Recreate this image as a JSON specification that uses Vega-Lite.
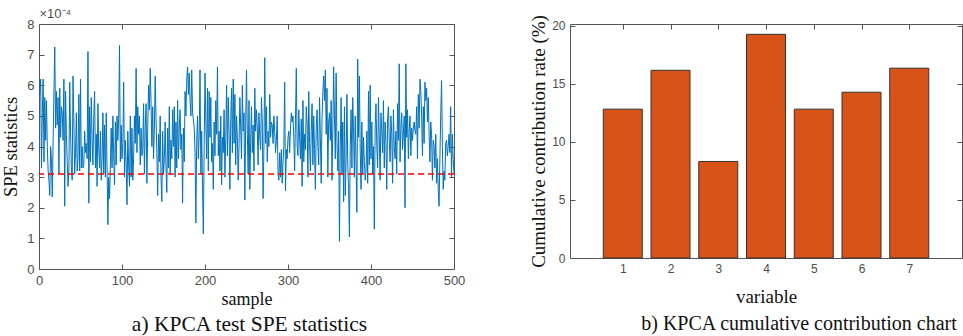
{
"$schema": "https://vega.github.io/schema/vega-lite/v6.json",
"background": "white",
"padding": {"left": 1, "top": 7, "right": 0, "bottom": 0},
"spacing": 116,
"bounds": "flush",
"config": {
  "view": {"stroke": "#555", "strokeWidth": 1},
  "axis": {"grid": false, "domain": false, "labelFlush": false, "tickColor": "#555", "tickSize": -5, "labelColor": "#4d4d4d", "labelFont": "Liberation Sans", "titleFont": "Liberation Serif", "titleFontWeight": "normal", "titleColor": "#111"},
  "title": {"font": "Liberation Serif", "fontWeight": "normal", "color": "#111"}
},
"datasets": {
"spe": [
{"sample":1,"spe":5.7},{"sample":2,"spe":6.2},{"sample":3,"spe":3.3},{"sample":4,"spe":5.1},{"sample":5,"spe":6.2},{"sample":6,"spe":3.5},{"sample":7,"spe":5.6},{"sample":8,"spe":4.2},{"sample":9,"spe":5.5},{"sample":10,"spe":4.0},
{"sample":11,"spe":3.2},{"sample":12,"spe":2.9},{"sample":13,"spe":2.4},{"sample":14,"spe":4.0},{"sample":15,"spe":3.6},{"sample":16,"spe":2.35},{"sample":17,"spe":4.2},{"sample":18,"spe":5.8},{"sample":19,"spe":7.25},{"sample":20,"spe":4.6},
{"sample":21,"spe":5.8},{"sample":22,"spe":4.7},{"sample":23,"spe":5.6},{"sample":24,"spe":3.1},{"sample":25,"spe":5.9},{"sample":26,"spe":4.3},{"sample":27,"spe":5.3},{"sample":28,"spe":5.1},{"sample":29,"spe":4.2},{"sample":30,"spe":6.2},
{"sample":31,"spe":2.05},{"sample":32,"spe":5.8},{"sample":33,"spe":4.4},{"sample":34,"spe":3.5},{"sample":35,"spe":2.7},{"sample":36,"spe":3.2},{"sample":37,"spe":6.1},{"sample":38,"spe":4.5},{"sample":39,"spe":3.3},{"sample":40,"spe":2.9},
{"sample":41,"spe":6.3},{"sample":42,"spe":4.8},{"sample":43,"spe":3.1},{"sample":44,"spe":3.8},{"sample":45,"spe":5.1},{"sample":46,"spe":3.2},{"sample":47,"spe":3.6},{"sample":48,"spe":5.7},{"sample":49,"spe":3.2},{"sample":50,"spe":6.2},
{"sample":51,"spe":3.3},{"sample":52,"spe":4.0},{"sample":53,"spe":3.3},{"sample":54,"spe":3.4},{"sample":55,"spe":4.5},{"sample":56,"spe":3.8},{"sample":57,"spe":4.1},{"sample":58,"spe":3.6},{"sample":59,"spe":7.1},{"sample":60,"spe":2.15},
{"sample":61,"spe":5.3},{"sample":62,"spe":3.5},{"sample":63,"spe":5.6},{"sample":64,"spe":4.2},{"sample":65,"spe":3.4},{"sample":66,"spe":5.0},{"sample":67,"spe":5.8},{"sample":68,"spe":3.3},{"sample":69,"spe":4.4},{"sample":70,"spe":2.7},
{"sample":71,"spe":5.4},{"sample":72,"spe":3.9},{"sample":73,"spe":3.3},{"sample":74,"spe":4.5},{"sample":75,"spe":2.9},{"sample":76,"spe":3.6},{"sample":77,"spe":5.1},{"sample":78,"spe":3.1},{"sample":79,"spe":4.7},{"sample":80,"spe":3.0},
{"sample":81,"spe":5.1},{"sample":82,"spe":3.3},{"sample":83,"spe":1.45},{"sample":84,"spe":3.0},{"sample":85,"spe":2.3},{"sample":86,"spe":3.4},{"sample":87,"spe":4.6},{"sample":88,"spe":3.3},{"sample":89,"spe":5.0},{"sample":90,"spe":3.7},
{"sample":91,"spe":2.75},{"sample":92,"spe":4.8},{"sample":93,"spe":3.4},{"sample":94,"spe":5.0},{"sample":95,"spe":4.2},{"sample":96,"spe":4.9},{"sample":97,"spe":7.3},{"sample":98,"spe":3.5},{"sample":99,"spe":4.7},{"sample":100,"spe":3.6},
{"sample":101,"spe":4.1},{"sample":102,"spe":6.1},{"sample":103,"spe":3.0},{"sample":104,"spe":4.2},{"sample":105,"spe":3.5},{"sample":106,"spe":2.1},{"sample":107,"spe":4.5},{"sample":108,"spe":3.4},{"sample":109,"spe":2.7},{"sample":110,"spe":5.0},
{"sample":111,"spe":3.0},{"sample":112,"spe":4.6},{"sample":113,"spe":2.9},{"sample":114,"spe":3.6},{"sample":115,"spe":5.0},{"sample":116,"spe":4.1},{"sample":117,"spe":6.55},{"sample":118,"spe":3.8},{"sample":119,"spe":5.3},{"sample":120,"spe":4.4},
{"sample":121,"spe":5.0},{"sample":122,"spe":3.4},{"sample":123,"spe":4.6},{"sample":124,"spe":3.7},{"sample":125,"spe":3.9},{"sample":126,"spe":5.4},{"sample":127,"spe":3.1},{"sample":128,"spe":4.6},{"sample":129,"spe":5.4},{"sample":130,"spe":2.8},
{"sample":131,"spe":4.6},{"sample":132,"spe":6.0},{"sample":133,"spe":5.2},{"sample":134,"spe":6.55},{"sample":135,"spe":5.4},{"sample":136,"spe":4.0},{"sample":137,"spe":5.3},{"sample":138,"spe":3.6},{"sample":139,"spe":4.6},{"sample":140,"spe":6.3},
{"sample":141,"spe":4.9},{"sample":142,"spe":3.8},{"sample":143,"spe":2.4},{"sample":144,"spe":4.4},{"sample":145,"spe":3.5},{"sample":146,"spe":5.0},{"sample":147,"spe":3.0},{"sample":148,"spe":2.2},{"sample":149,"spe":4.5},{"sample":150,"spe":3.1},
{"sample":151,"spe":3.6},{"sample":152,"spe":4.8},{"sample":153,"spe":3.3},{"sample":154,"spe":2.5},{"sample":155,"spe":4.6},{"sample":156,"spe":3.3},{"sample":157,"spe":5.3},{"sample":158,"spe":3.1},{"sample":159,"spe":4.2},{"sample":160,"spe":3.6},
{"sample":161,"spe":5.2},{"sample":162,"spe":4.0},{"sample":163,"spe":5.3},{"sample":164,"spe":3.0},{"sample":165,"spe":4.8},{"sample":166,"spe":3.3},{"sample":167,"spe":5.5},{"sample":168,"spe":3.6},{"sample":169,"spe":4.6},{"sample":170,"spe":5.2},
{"sample":171,"spe":3.9},{"sample":172,"spe":4.4},{"sample":173,"spe":2.15},{"sample":174,"spe":4.6},{"sample":175,"spe":3.5},{"sample":176,"spe":5.8},{"sample":177,"spe":5.0},{"sample":178,"spe":6.2},{"sample":179,"spe":6.6},{"sample":180,"spe":5.7},
{"sample":181,"spe":6.4},{"sample":182,"spe":5.5},{"sample":183,"spe":5.0},{"sample":184,"spe":6.5},{"sample":185,"spe":5.1},{"sample":186,"spe":4.9},{"sample":187,"spe":4.6},{"sample":188,"spe":3.8},{"sample":189,"spe":1.5},{"sample":190,"spe":4.2},
{"sample":191,"spe":5.0},{"sample":192,"spe":3.6},{"sample":193,"spe":4.4},{"sample":194,"spe":6.5},{"sample":195,"spe":3.1},{"sample":196,"spe":4.5},{"sample":197,"spe":2.7},{"sample":198,"spe":1.15},{"sample":199,"spe":4.0},{"sample":200,"spe":6.4},
{"sample":201,"spe":4.8},{"sample":202,"spe":3.6},{"sample":203,"spe":5.9},{"sample":204,"spe":3.2},{"sample":205,"spe":5.8},{"sample":206,"spe":4.3},{"sample":207,"spe":5.6},{"sample":208,"spe":3.5},{"sample":209,"spe":4.1},{"sample":210,"spe":2.6},
{"sample":211,"spe":4.8},{"sample":212,"spe":3.7},{"sample":213,"spe":5.5},{"sample":214,"spe":4.4},{"sample":215,"spe":6.6},{"sample":216,"spe":3.7},{"sample":217,"spe":4.5},{"sample":218,"spe":3.2},{"sample":219,"spe":5.0},{"sample":220,"spe":2.75},
{"sample":221,"spe":4.3},{"sample":222,"spe":3.8},{"sample":223,"spe":5.2},{"sample":224,"spe":3.0},{"sample":225,"spe":4.3},{"sample":226,"spe":6.0},{"sample":227,"spe":3.7},{"sample":228,"spe":5.6},{"sample":229,"spe":4.5},{"sample":230,"spe":2.6},
{"sample":231,"spe":4.8},{"sample":232,"spe":5.9},{"sample":233,"spe":3.8},{"sample":234,"spe":6.2},{"sample":235,"spe":4.1},{"sample":236,"spe":5.7},{"sample":237,"spe":3.4},{"sample":238,"spe":5.0},{"sample":239,"spe":4.3},{"sample":240,"spe":2.9},
{"sample":241,"spe":4.0},{"sample":242,"spe":5.6},{"sample":243,"spe":4.6},{"sample":244,"spe":3.6},{"sample":245,"spe":6.0},{"sample":246,"spe":4.5},{"sample":247,"spe":5.1},{"sample":248,"spe":2.25},{"sample":249,"spe":4.7},{"sample":250,"spe":6.5},
{"sample":251,"spe":4.4},{"sample":252,"spe":3.1},{"sample":253,"spe":5.5},{"sample":254,"spe":2.6},{"sample":255,"spe":4.2},{"sample":256,"spe":5.3},{"sample":257,"spe":3.8},{"sample":258,"spe":4.7},{"sample":259,"spe":3.2},{"sample":260,"spe":5.9},
{"sample":261,"spe":4.5},{"sample":262,"spe":5.2},{"sample":263,"spe":4.6},{"sample":264,"spe":3.4},{"sample":265,"spe":5.1},{"sample":266,"spe":4.3},{"sample":267,"spe":3.9},{"sample":268,"spe":5.6},{"sample":269,"spe":4.8},{"sample":270,"spe":2.3},
{"sample":271,"spe":4.0},{"sample":272,"spe":6.9},{"sample":273,"spe":4.1},{"sample":274,"spe":5.3},{"sample":275,"spe":3.5},{"sample":276,"spe":4.5},{"sample":277,"spe":4.0},{"sample":278,"spe":5.7},{"sample":279,"spe":4.3},{"sample":280,"spe":4.8},
{"sample":281,"spe":4.7},{"sample":282,"spe":4.1},{"sample":283,"spe":5.0},{"sample":284,"spe":4.5},{"sample":285,"spe":3.8},{"sample":286,"spe":4.2},{"sample":287,"spe":5.0},{"sample":288,"spe":3.1},{"sample":289,"spe":2.9},{"sample":290,"spe":3.8},
{"sample":291,"spe":3.0},{"sample":292,"spe":3.9},{"sample":293,"spe":2.8},{"sample":294,"spe":3.5},{"sample":295,"spe":4.0},{"sample":296,"spe":6.1},{"sample":297,"spe":2.55},{"sample":298,"spe":3.9},{"sample":299,"spe":3.6},{"sample":300,"spe":4.3},
{"sample":301,"spe":4.5},{"sample":302,"spe":3.8},{"sample":303,"spe":4.6},{"sample":304,"spe":5.1},{"sample":305,"spe":4.8},{"sample":306,"spe":5.0},{"sample":307,"spe":4.3},{"sample":308,"spe":3.2},{"sample":309,"spe":4.9},{"sample":310,"spe":6.55},
{"sample":311,"spe":4.0},{"sample":312,"spe":3.7},{"sample":313,"spe":5.2},{"sample":314,"spe":4.3},{"sample":315,"spe":3.6},{"sample":316,"spe":4.9},{"sample":317,"spe":2.7},{"sample":318,"spe":5.5},{"sample":319,"spe":3.5},{"sample":320,"spe":4.4},
{"sample":321,"spe":3.9},{"sample":322,"spe":5.3},{"sample":323,"spe":4.8},{"sample":324,"spe":3.0},{"sample":325,"spe":5.8},{"sample":326,"spe":4.1},{"sample":327,"spe":3.2},{"sample":328,"spe":4.5},{"sample":329,"spe":5.4},{"sample":330,"spe":3.4},
{"sample":331,"spe":5.0},{"sample":332,"spe":3.9},{"sample":333,"spe":2.6},{"sample":334,"spe":4.6},{"sample":335,"spe":5.2},{"sample":336,"spe":4.0},{"sample":337,"spe":3.4},{"sample":338,"spe":5.6},{"sample":339,"spe":4.3},{"sample":340,"spe":2.8},
{"sample":341,"spe":4.9},{"sample":342,"spe":5.8},{"sample":343,"spe":6.3},{"sample":344,"spe":5.5},{"sample":345,"spe":6.5},{"sample":346,"spe":4.4},{"sample":347,"spe":5.9},{"sample":348,"spe":3.0},{"sample":349,"spe":4.8},{"sample":350,"spe":5.1},
{"sample":351,"spe":4.2},{"sample":352,"spe":5.5},{"sample":353,"spe":2.9},{"sample":354,"spe":4.6},{"sample":355,"spe":6.6},{"sample":356,"spe":5.0},{"sample":357,"spe":3.6},{"sample":358,"spe":6.4},{"sample":359,"spe":4.1},{"sample":360,"spe":3.2},
{"sample":361,"spe":4.5},{"sample":362,"spe":0.9},{"sample":363,"spe":4.0},{"sample":364,"spe":5.6},{"sample":365,"spe":3.1},{"sample":366,"spe":4.8},{"sample":367,"spe":2.2},{"sample":368,"spe":5.3},{"sample":369,"spe":2.4},{"sample":370,"spe":3.6},
{"sample":371,"spe":5.7},{"sample":372,"spe":3.4},{"sample":373,"spe":2.6},{"sample":374,"spe":1.05},{"sample":375,"spe":4.0},{"sample":376,"spe":5.2},{"sample":377,"spe":3.3},{"sample":378,"spe":5.6},{"sample":379,"spe":4.4},{"sample":380,"spe":3.0},
{"sample":381,"spe":5.0},{"sample":382,"spe":3.4},{"sample":383,"spe":1.85},{"sample":384,"spe":6.85},{"sample":385,"spe":4.3},{"sample":386,"spe":6.3},{"sample":387,"spe":3.9},{"sample":388,"spe":2.6},{"sample":389,"spe":4.8},{"sample":390,"spe":3.1},
{"sample":391,"spe":4.3},{"sample":392,"spe":3.5},{"sample":393,"spe":2.9},{"sample":394,"spe":3.2},{"sample":395,"spe":4.5},{"sample":396,"spe":2.8},{"sample":397,"spe":5.8},{"sample":398,"spe":3.4},{"sample":399,"spe":6.0},{"sample":400,"spe":3.6},
{"sample":401,"spe":4.8},{"sample":402,"spe":3.1},{"sample":403,"spe":4.0},{"sample":404,"spe":1.3},{"sample":405,"spe":4.6},{"sample":406,"spe":5.4},{"sample":407,"spe":4.0},{"sample":408,"spe":3.3},{"sample":409,"spe":5.6},{"sample":410,"spe":4.3},
{"sample":411,"spe":2.9},{"sample":412,"spe":5.1},{"sample":413,"spe":4.5},{"sample":414,"spe":3.8},{"sample":415,"spe":5.5},{"sample":416,"spe":3.3},{"sample":417,"spe":4.8},{"sample":418,"spe":4.1},{"sample":419,"spe":2.6},{"sample":420,"spe":4.9},
{"sample":421,"spe":5.3},{"sample":422,"spe":4.2},{"sample":423,"spe":3.5},{"sample":424,"spe":5.0},{"sample":425,"spe":4.4},{"sample":426,"spe":2.8},{"sample":427,"spe":5.2},{"sample":428,"spe":4.0},{"sample":429,"spe":3.6},{"sample":430,"spe":4.5},
{"sample":431,"spe":3.1},{"sample":432,"spe":5.4},{"sample":433,"spe":4.2},{"sample":434,"spe":6.7},{"sample":435,"spe":3.5},{"sample":436,"spe":4.6},{"sample":437,"spe":5.1},{"sample":438,"spe":3.9},{"sample":439,"spe":4.4},{"sample":440,"spe":5.0},
{"sample":441,"spe":2.0},{"sample":442,"spe":6.7},{"sample":443,"spe":4.3},{"sample":444,"spe":5.2},{"sample":445,"spe":3.6},{"sample":446,"spe":4.5},{"sample":447,"spe":5.0},{"sample":448,"spe":3.7},{"sample":449,"spe":4.6},{"sample":450,"spe":4.2},
{"sample":451,"spe":4.6},{"sample":452,"spe":4.8},{"sample":453,"spe":4.5},{"sample":454,"spe":4.4},{"sample":455,"spe":5.3},{"sample":456,"spe":3.6},{"sample":457,"spe":5.7},{"sample":458,"spe":4.6},{"sample":459,"spe":6.2},{"sample":460,"spe":5.8},
{"sample":461,"spe":5.0},{"sample":462,"spe":3.7},{"sample":463,"spe":5.3},{"sample":464,"spe":4.1},{"sample":465,"spe":6.1},{"sample":466,"spe":5.5},{"sample":467,"spe":5.9},{"sample":468,"spe":4.8},{"sample":469,"spe":5.6},{"sample":470,"spe":4.4},
{"sample":471,"spe":3.5},{"sample":472,"spe":4.8},{"sample":473,"spe":4.4},{"sample":474,"spe":2.9},{"sample":475,"spe":4.2},{"sample":476,"spe":4.0},{"sample":477,"spe":3.3},{"sample":478,"spe":4.4},{"sample":479,"spe":2.8},{"sample":480,"spe":3.6},
{"sample":481,"spe":2.6},{"sample":482,"spe":2.05},{"sample":483,"spe":3.6},{"sample":484,"spe":5.0},{"sample":485,"spe":6.15},{"sample":486,"spe":4.0},{"sample":487,"spe":2.6},{"sample":488,"spe":3.2},{"sample":489,"spe":2.9},{"sample":490,"spe":4.1},
{"sample":491,"spe":4.2},{"sample":492,"spe":3.7},{"sample":493,"spe":4.0},{"sample":494,"spe":4.4},{"sample":495,"spe":3.8},{"sample":496,"spe":5.3},{"sample":497,"spe":3.0},{"sample":498,"spe":4.4},{"sample":499,"spe":3.6},{"sample":500,"spe":3.1}
],
"contrib": [
{"variable":1,"rate":12.83},{"variable":2,"rate":16.18},{"variable":3,"rate":8.32},{"variable":4,"rate":19.28},{"variable":5,"rate":12.83},{"variable":6,"rate":14.29},{"variable":7,"rate":16.36}
]
},
"hconcat": [
{
  "width": 415, "height": 245,
  "title": {"text": "a) KPCA test SPE statistics", "orient": "bottom", "fontSize": 21.5, "offset": 6, "dx": 3},
  "layer": [
    {
      "data": {"name": "spe"},
      "mark": {"type": "line", "color": "#0072BD", "strokeWidth": 1},
      "encoding": {
        "x": {"field": "sample", "type": "quantitative", "scale": {"domain": [0, 500], "nice": false}, "axis": {"title": "sample", "values": [0,100,200,300,400,500], "labelFontSize": 13, "labelPadding": 10, "titleFontSize": 18, "titlePadding": 3}},
        "y": {"field": "spe", "type": "quantitative", "scale": {"domain": [0, 8], "nice": false}, "axis": {"title": "SPE statistics", "values": [0,1,2,3,4,5,6,7,8], "labelFontSize": 13, "labelPadding": 10, "titleFontSize": 18.5, "titlePadding": 6}}
      }
    },
    {
      "data": {"name": "spe"},
      "mark": {"type": "point", "opacity": 0},
      "encoding": {
        "x": {"field": "sample", "type": "quantitative", "axis": {"orient": "top", "labels": false, "values": [0,100,200,300,400,500], "title": "×10⁻⁴", "titleFont": "Liberation Sans", "titleFontSize": 13, "titleColor": "#4d4d4d", "titleAnchor": "start", "titleAlign": "left", "titlePadding": 3}},
        "y": {"field": "spe", "type": "quantitative", "axis": {"orient": "right", "labels": false, "values": [0,1,2,3,4,5,6,7,8], "title": null}}
      }
    },
    {
      "data": {"values": [{"limit": 3.1}]},
      "mark": {"type": "rule", "color": "#FF0000", "strokeDash": [6, 4], "strokeWidth": 1.5},
      "encoding": {"y": {"field": "limit", "type": "quantitative", "axis": null}}
    }
  ],
  "resolve": {"axis": {"x": "independent", "y": "independent"}}
},
{
  "width": 392, "height": 234,
  "title": {"text": "b) KPCA cumulative contribution chart", "orient": "bottom", "fontSize": 20, "offset": 8, "dx": 33},
  "data": {"name": "contrib"},
  "layer": [
    {
      "mark": {"type": "bar", "orient": "vertical", "color": "#D95319", "stroke": "#333", "strokeWidth": 1, "width": 39},
      "encoding": {
        "x": {"field": "variable", "type": "quantitative", "scale": {"domain": [0, 8], "nice": false}, "axis": {"title": "variable", "values": [1,2,3,4,5,6,7], "labelFontSize": 12, "labelPadding": 10, "titleFontSize": 19, "titlePadding": 13}},
        "y": {"field": "rate", "type": "quantitative", "scale": {"domain": [0, 20.17], "nice": false}, "axis": {"title": "Cumulative contribution rate (%)", "values": [0,5,10,15,20], "labelFontSize": 12, "labelPadding": 10, "titleFontSize": 19, "titlePadding": 3}}
      }
    },
    {
      "mark": {"type": "point", "opacity": 0},
      "encoding": {
        "x": {"field": "variable", "type": "quantitative", "axis": {"orient": "top", "labels": false, "values": [1,2,3,4,5,6,7], "title": null}},
        "y": {"field": "rate", "type": "quantitative", "axis": {"orient": "right", "labels": false, "values": [0,5,10,15,20], "title": null}}
      }
    }
  ],
  "resolve": {"axis": {"x": "independent", "y": "independent"}}
}
]
}
